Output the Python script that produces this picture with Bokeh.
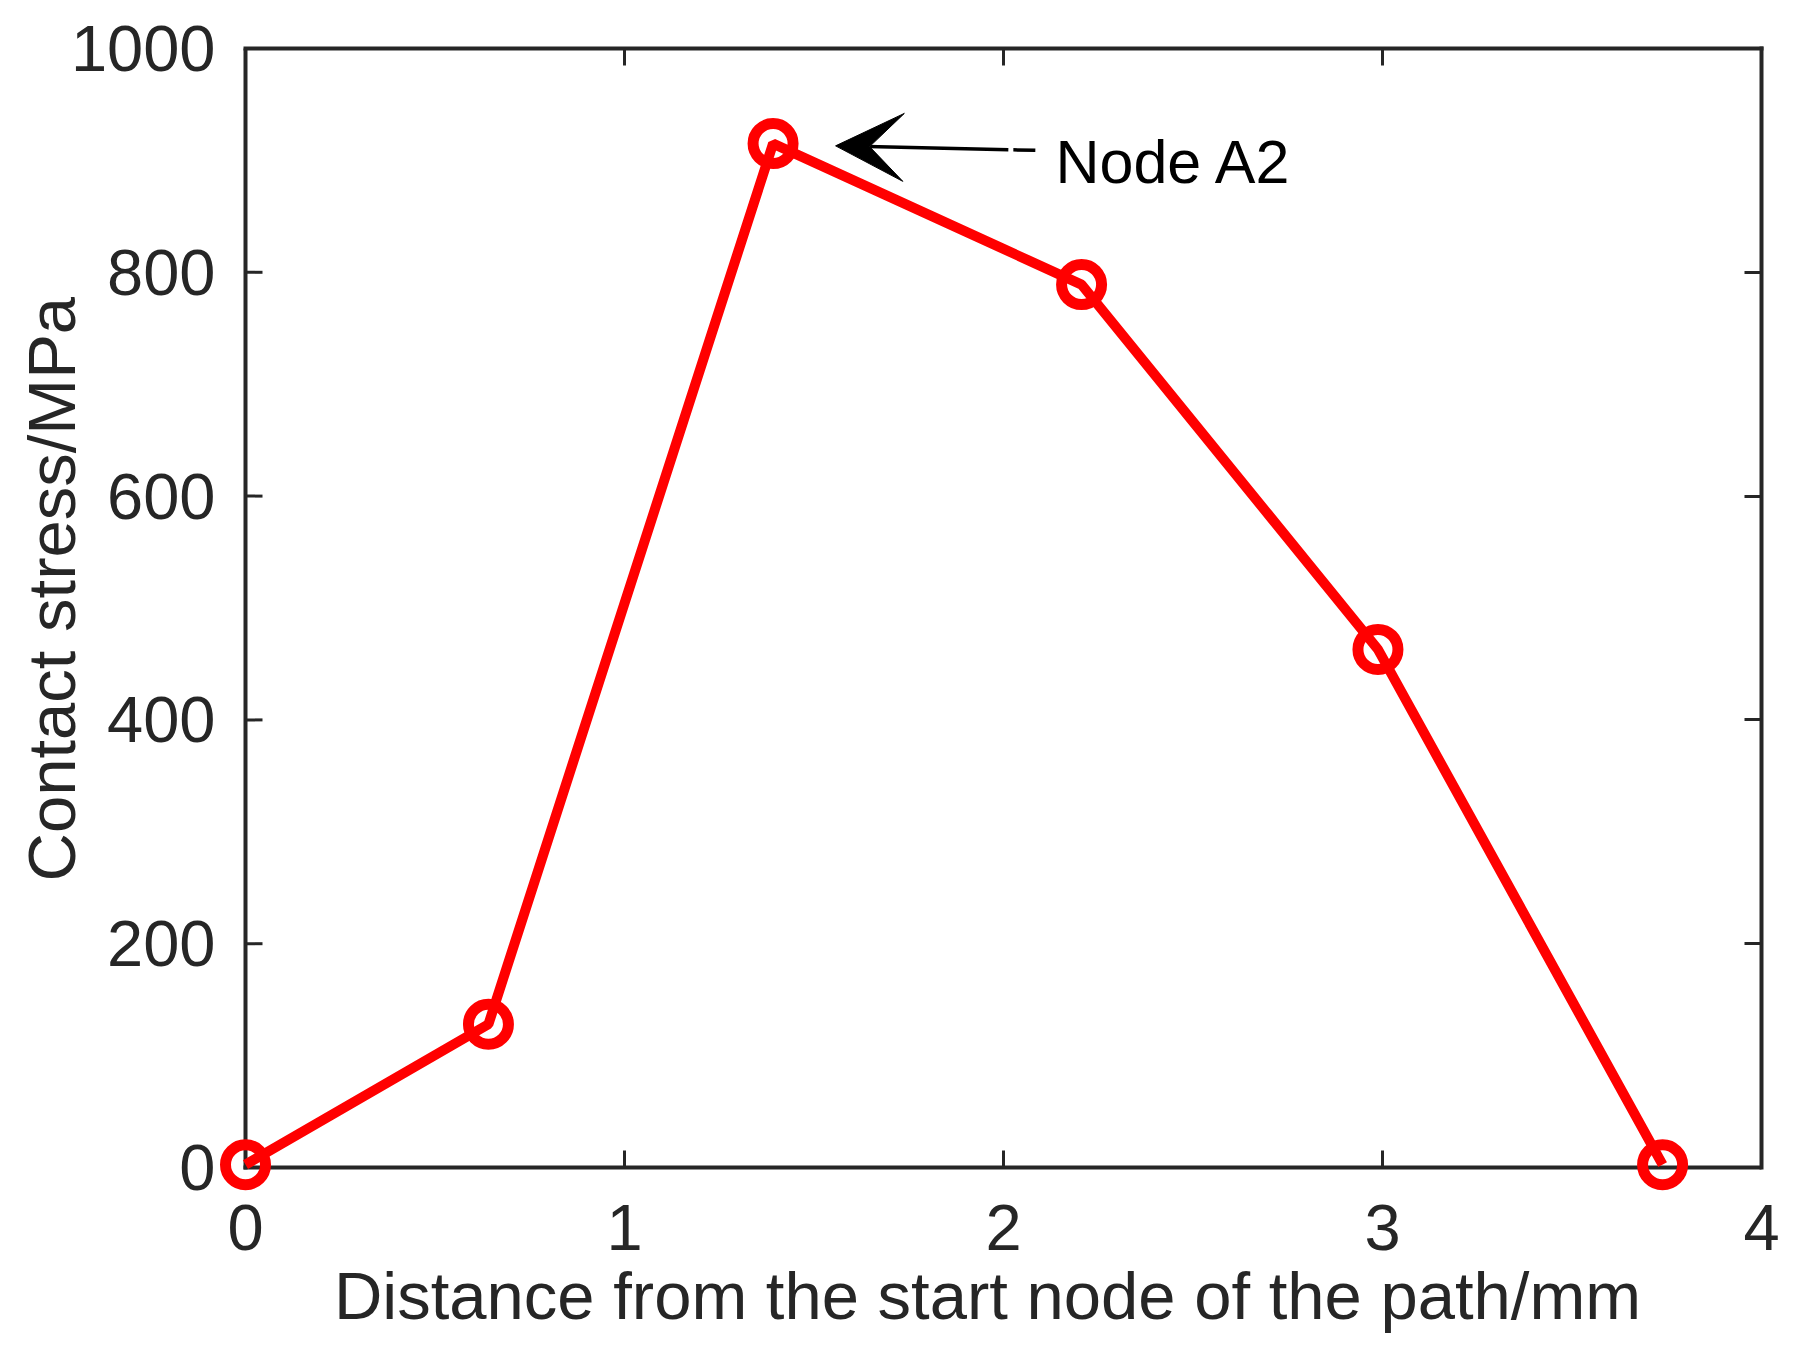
from bokeh.plotting import figure
from bokeh.embed import file_html
from bokeh.resources import INLINE
from bokeh.models import ColumnDataSource, LinearAxis, Range1d, FixedTicker, Arrow, VeeHead, Label, Title

# values
distance = [0.0, 0.641, 1.392, 2.206, 2.988, 3.739]
stress = [2.5, 128, 915, 789, 463, 2.5]

x_ticks = [0, 1, 2, 3, 4]
y_ticks = [0, 200, 400, 600, 800, 1000]

x_label = "Distance from the start node of the path/mm"
y_label = "Contact stress/MPa"

# annotation pointing at the peak
note_text = "Node A2"
note_x, note_y = 2.137, 899
arrow_x0, arrow_y0 = 2.084, 909
arrow_x1, arrow_y1 = 1.557, 913

FONT = "Liberation Sans"
INK = "#262626"

# the box is 1516 x 1119 px; the frame reaches PAD px further left and down
# so that the end markers are not cut off at the axes
BOX_W, BOX_H = 1516, 1119
PAD = 32
TICK = 17
x_lo = -PAD * 4 / BOX_W
y_lo = -PAD * 1000 / BOX_H
tick_dx = TICK * 4 / BOX_W
tick_dy = TICK * 1000 / BOX_H

source = ColumnDataSource(data=dict(distance=distance, stress=stress))

p = figure(
    width=1793,
    height=1352,
    x_range=Range1d(x_lo, 4),
    y_range=Range1d(y_lo, 1000),
    toolbar_location=None,
    tools="",
    output_backend="svg",
    min_border_left=245 - PAD,
    min_border_right=32,
    min_border_top=48,
    min_border_bottom=1352 - 1167 - PAD,
)

# left and bottom edges of the box, with their inward ticks
p.segment(x0=[0, 0], y0=[0, 0], x1=[4, 0], y1=[0, 1000],
          line_color=INK, line_width=4, line_cap="square")
p.segment(x0=x_ticks, y0=[0] * len(x_ticks), x1=x_ticks, y1=[tick_dy] * len(x_ticks),
          line_color=INK, line_width=3)
p.segment(x0=[0] * len(y_ticks), y0=y_ticks, x1=[tick_dx] * len(y_ticks), y1=y_ticks,
          line_color=INK, line_width=3)

p.line("distance", "stress", source=source, line_color="#FF0000", line_width=10)
p.scatter(
    "distance",
    "stress",
    source=source,
    marker="circle",
    size=40,
    fill_color=None,
    line_color="#FF0000",
    line_width=11,
)

p.add_layout(
    Arrow(
        end=VeeHead(size=68, fill_color="black", line_color="black", line_width=1),
        x_start=arrow_x0,
        y_start=arrow_y0,
        x_end=arrow_x1,
        y_end=arrow_y1,
        line_color="black",
        line_width=3.5,
        line_dash="22 5 400",
    )
)
p.add_layout(
    Label(
        x=note_x,
        y=note_y,
        text=note_text,
        text_font=FONT,
        text_font_size="61px",
        text_color="black",
        text_baseline="alphabetic",
    )
)

p.background_fill_color = "white"
p.border_fill_color = "white"
p.outline_line_color = None
p.xgrid.grid_line_color = None
p.ygrid.grid_line_color = None

p.xaxis.ticker = FixedTicker(ticks=x_ticks)
p.yaxis.ticker = FixedTicker(ticks=y_ticks)
p.xaxis.axis_label = x_label

# top and right edges of the box come from mirrored axes with ticks only
top_axis = LinearAxis(ticker=FixedTicker(ticks=x_ticks), bounds=(0, 4))
right_axis = LinearAxis(ticker=FixedTicker(ticks=y_ticks), bounds=(0, 1000))
p.add_layout(top_axis, "above")
p.add_layout(right_axis, "right")

for ax in p.xaxis + p.yaxis:
    ax.axis_line_color = None
    ax.major_tick_line_color = None
    ax.minor_tick_line_color = None
    ax.major_tick_out = 0
    ax.major_label_text_font = FONT
    ax.major_label_text_font_size = "65px"
    ax.major_label_text_color = INK
    ax.axis_label_text_font = FONT
    ax.axis_label_text_font_size = "67px"
    ax.axis_label_text_font_style = "normal"
    ax.axis_label_text_color = INK

for ax in (top_axis, right_axis):
    ax.axis_line_color = INK
    ax.axis_line_width = 4
    ax.axis_line_cap = "square"
    ax.major_tick_line_color = INK
    ax.major_tick_line_width = 3
    ax.major_tick_in = TICK
    ax.major_label_text_color = None
    ax.major_label_text_font_size = "10px"
    ax.major_label_standoff = 0

p.xaxis[0].major_label_standoff = 14
p.xaxis[0].axis_label_standoff = -3
p.yaxis[0].major_label_standoff = -2

# y title as a side title, starting a little above the frame bottom like the original
p.add_layout(
    Title(
        text=y_label,
        align="left",
        offset=318,
        standoff=-42,
        text_font=FONT,
        text_font_size="67px",
        text_font_style="normal",
        text_color=INK,
    ),
    "left",
)

open("out.html", "w").write(file_html(p, INLINE))
